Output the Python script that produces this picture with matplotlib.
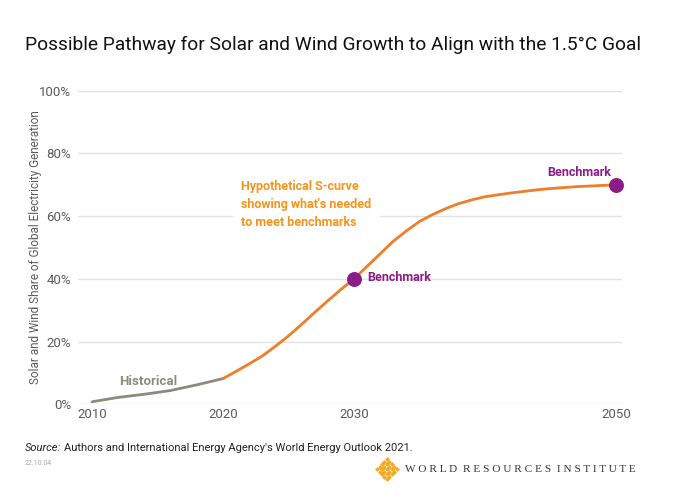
import numpy as np
import matplotlib
matplotlib.use("Agg")
import matplotlib.pyplot as plt
from matplotlib.ticker import FuncFormatter


# ---- data ----
hist_years = [2010, 2012, 2014, 2016, 2018, 2020]
hist_share = [0.8, 2.2, 3.2, 4.4, 6.2, 8.2]

scurve_years = list(range(2020, 2051))
scurve_share = [8.2, 10.5, 12.9, 15.4, 18.5, 21.8, 25.5, 29.3, 33.0, 36.6,
                40.0, 44.0, 48.0, 52.0, 55.3, 58.3, 60.5, 62.4, 64.0, 65.2,
                66.2, 66.8, 67.4, 67.9, 68.4, 68.8, 69.1, 69.4, 69.6, 69.8, 70.0]

bench_years = [2030, 2050]
bench_share = [40, 70]

x_ticks = [2010, 2020, 2030, 2050]
y_ticks = [0, 20, 40, 60, 80, 100]

# colours
ORANGE = "#f07d27"
ORANGE_TXT = "#f7941d"
HIST = "#8a8b7e"
PURPLE = "#8c1c87"
GRID = "#e2e2e2"
TICK = "#5a5a5a"

plt.rcParams["font.family"] = ["Roboto", "DejaVu Sans"]

fig = plt.figure(figsize=(6.8, 4.94), dpi=100)
ax = fig.add_axes([0.1147, 0.1816, 0.80, 0.6348])

ax.set_xlim(2008.93, 2050.46)
ax.set_ylim(0, 100)

for y in y_ticks:
    ax.axhline(y, color=GRID, lw=1.0, zorder=0)

ax.plot(hist_years, hist_share, color=HIST, lw=2.0, solid_capstyle="round", zorder=3)
ax.plot(scurve_years, scurve_share, color=ORANGE, lw=2.0, solid_capstyle="round", zorder=3)
ax.scatter(bench_years, bench_share, s=95, color=PURPLE, zorder=5, clip_on=False)

for s in ax.spines.values():
    s.set_visible(False)
ax.set_xticks(x_ticks)
ax.set_yticks(y_ticks)
ax.yaxis.set_major_formatter(FuncFormatter(lambda v, p: f"{int(v)}%"))
ax.tick_params(length=0, labelsize=9.5, colors=TICK, pad=5)
ax.tick_params(axis="x", pad=3)

ax.set_ylabel("Solar and Wind Share of Global Electricity Generation",
              fontsize=8.5, color=TICK)
ax.yaxis.set_label_coords(-0.067, 0.5)

# annotations
ax.text(2012.1, 7.2, "Historical", color=HIST, fontsize=9.5, fontweight="bold",
        ha="left", va="center")
ax.text(2031.0, bench_share[0] + 0.3, "Benchmark", color=PURPLE, fontsize=9,
        fontweight="bold", ha="left", va="center")
ax.text(2049.6, bench_share[1] + 3.8, "Benchmark", color=PURPLE, fontsize=9,
        fontweight="bold", ha="right", va="center")
ax.text(2021.4, 71.5, "Hypothetical S-curve\nshowing what's needed\nto meet benchmarks",
        color=ORANGE_TXT, fontsize=9, fontweight="bold", ha="left", va="top",
        linespacing=1.5,
        bbox=dict(facecolor="white", edgecolor="none", pad=6))

# title and footer
fig.text(0.037, 0.908, "Possible Pathway for Solar and Wind Growth to Align with the 1.5°C Goal",
         fontsize=13.8, color="#111111", ha="left", va="center")
src = fig.text(0.037, 0.093, "Source:", fontsize=8, style="italic", color="#222222",
               ha="left", va="center")
renderer = fig.canvas.get_renderer()
bb = src.get_window_extent(renderer)
fig.text(bb.x1 / fig.bbox.width + 0.004, 0.093,
         "Authors and International Energy Agency's World Energy Outlook 2021.",
         fontsize=8, color="#222222", ha="left", va="center")
fig.text(0.037, 0.062, "22.10.04", fontsize=5, color="#aaaaaa", ha="left", va="center")

# WRI logo: small diamond lattice + wordmark
logo_ax = fig.add_axes([0.551, 0.025, 0.036, 0.05])
logo_ax.set_xlim(-5, 5)
logo_ax.set_ylim(-5, 5)
logo_ax.axis("off")
gx, gy = np.meshgrid(np.arange(-4, 5), np.arange(-4, 5))
mask = (np.abs(gx) + np.abs(gy) <= 5) & ((gx + gy) % 2 == 0)
logo_ax.scatter(gx[mask], gy[mask], marker="D", s=6, color="#f5a623", lw=0)
fig.text(0.596, 0.05, "W O R L D  R E S O U R C E S  I N S T I T U T E",
         fontsize=8.1, family="Liberation Serif", color="#333333", ha="left", va="center")

fig.savefig("out.png", dpi=100)
